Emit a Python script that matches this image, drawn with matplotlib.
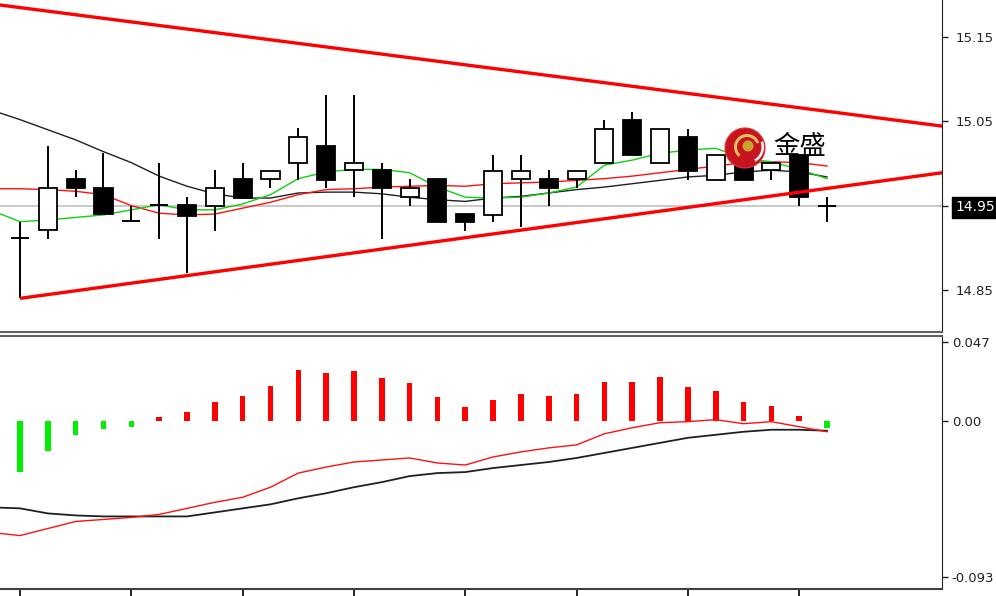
import numpy as np
import matplotlib as mp
mp.use('Agg')
import matplotlib.pyplot as plt
from matplotlib.patches import Circle, Wedge

plt.rcParams['font.family'] = ['DejaVu Sans']

# ---- candles (bar index 0..29) ----
opens  = [14.912, 14.921, 14.982, 14.971, 14.932, 14.951, 14.951, 14.950, 14.982, 14.982,
          15.0005, 15.021, 14.992, 14.992, 14.960, 14.982, 14.940, 14.939, 14.982, 14.982,
          14.982, 15.0005, 15.052, 15.0005, 15.031, 14.980, 15.002, 14.992, 15.010, 14.950]
closes = [14.912, 14.971, 14.971, 14.940, 14.932, 14.951, 14.938, 14.971, 14.959, 14.991,
          15.031, 14.980, 15.000, 14.971, 14.971, 14.931, 14.931, 14.991, 14.991, 14.971,
          14.991, 15.041, 15.010, 15.041, 14.991, 15.010, 14.980, 15.000, 14.960, 14.950]
highs  = [14.931, 15.021, 14.992, 15.012, 14.950, 15.0005, 14.960, 14.992, 15.000, 14.991,
          15.042, 15.081, 15.081, 15.000, 14.982, 14.982, 14.940, 15.010, 15.010, 14.992,
          14.991, 15.052, 15.061, 15.041, 15.041, 15.010, 15.002, 15.000, 15.010, 14.960]
lows   = [14.840, 14.910, 14.960, 14.940, 14.932, 14.910, 14.870, 14.920, 14.959, 14.971,
          14.980, 14.971, 14.960, 14.910, 14.950, 14.931, 14.920, 14.931, 14.925, 14.950,
          14.971, 15.0005, 15.010, 15.0005, 14.980, 14.980, 14.980, 14.980, 14.950, 14.931]

# ---- moving averages (bar index -1..29) ----
ma_black = [15.063, 15.052, 15.040, 15.028, 15.014, 15.001, 14.985, 14.973, 14.964, 14.959, 14.959,
            14.965, 14.966, 14.966, 14.964, 14.960, 14.957, 14.955, 14.959, 14.961, 14.965,
            14.969, 14.972, 14.976, 14.980, 14.984, 14.986, 14.990, 14.992, 14.990, 14.984]
ma_red   = [14.970, 14.970, 14.969, 14.967, 14.963, 14.950, 14.941, 14.939, 14.940, 14.947, 14.954,
            14.963, 14.969, 14.970, 14.972, 14.973, 14.974, 14.973, 14.976, 14.977, 14.978,
            14.980, 14.982, 14.985, 14.989, 14.993, 14.997, 15.001, 15.002, 15.001, 14.997]
ma_green = [14.944, 14.931, 14.933, 14.936, 14.939, 14.945, 14.951, 14.945, 14.945, 14.952, 14.963,
            14.982, 14.990, 14.993, 14.993, 14.989, 14.972, 14.960, 14.959, 14.960, 14.965,
            14.972, 14.998, 15.004, 15.012, 15.016, 15.018, 15.006, 15.002, 14.993, 14.982]

# ---- trend lines (bar index, price) ----
upper_line = [(0, 15.1849), (28, 15.0661)]
lower_line = [(0, 14.840), (28, 14.9659)]
last_price = 14.95

# ---- MACD ----
hist = [-0.0306, -0.018, -0.0084, -0.0048, -0.0036, 0.0024, 0.0054, 0.0114, 0.0144, 0.0204,
        0.030, 0.0282, 0.0294, 0.0252, 0.0222, 0.0138, 0.0084, 0.0126, 0.0156, 0.0144,
        0.0156, 0.0228, 0.0228, 0.0258, 0.0198, 0.0174, 0.0114, 0.009, 0.003, -0.0042]
dif = [-0.0666, -0.0684, -0.0642, -0.060, -0.0588, -0.0576, -0.0558, -0.0522, -0.0486, -0.0456, -0.0396,
       -0.0312, -0.0276, -0.0246, -0.0234, -0.0222, -0.0252, -0.0264, -0.0216, -0.0186, -0.0162,
       -0.0144, -0.0078, -0.0042, -0.0012, -0.0006, 0.0006, -0.0018, -0.0006, -0.0036, -0.0066]
dea = [-0.0516, -0.0522, -0.0552, -0.0564, -0.057, -0.057, -0.057, -0.057, -0.0546, -0.0522, -0.0498,
       -0.0462, -0.0432, -0.0396, -0.0366, -0.033, -0.0312, -0.0306, -0.0282, -0.0264, -0.0246,
       -0.0222, -0.0192, -0.0162, -0.0132, -0.0102, -0.0084, -0.0066, -0.0054, -0.0054, -0.006]

bars = np.arange(len(opens))
lbars = np.arange(-1, len(opens))

fig = plt.figure(figsize=(9.96, 5.96), dpi=100)
W, H = 996.0, 596.0
ax1 = fig.add_axes([0, 1 - 332 / H, 942 / W, 332 / H])
ax2 = fig.add_axes([0, 1 - 589 / H, 942 / W, (589 - 336) / H])

xl = (-20 / 27.83, (942 - 20) / 27.83)

# ---- main panel ----
ax1.axhline(last_price, color='#c0c0c0', lw=1.2, zorder=1)
ax1.plot(lbars, ma_black, color='#202020', lw=1.0, zorder=2)
ax1.plot(lbars, ma_red, color='#ff1010', lw=1.0, zorder=2)
ax1.plot(lbars, ma_green, color='#10d010', lw=1.0, zorder=2)

bw = 0.65
for i in bars:
    o, c = opens[i], closes[i]
    ax1.vlines(i, lows[i], highs[i], color='black', lw=1.4, zorder=3)
    if abs(o - c) < 1e-6:
        ax1.hlines(o, i - bw / 2, i + bw / 2, color='black', lw=1.4, zorder=4)
    else:
        fc = 'white' if c > o else 'black'
        ax1.bar(i, abs(c - o), bottom=min(o, c), width=bw, color=fc,
                edgecolor='black', linewidth=1.3, zorder=4)

ax1.axline(upper_line[0], upper_line[1], color='#ff0000', lw=2.4, zorder=5)
(x0, y0), (x1, y1) = lower_line
slope = (y1 - y0) / (x1 - x0)
ax1.plot([x0, 40], [y0, y0 + slope * (40 - x0)], color='#ff0000', lw=2.4, zorder=5,
         solid_capstyle='butt')

ax1.set_xlim(*xl)
ax1.set_ylim(14.8001, 15.1939)
ax1.yaxis.tick_right()
ax1.set_yticks([14.85, 14.95, 15.05, 15.15])
ax1.set_yticklabels(['14.85', '14.95', '15.05', '15.15'])
ax1.tick_params(axis='y', direction='out', length=4, width=1, pad=6,
                labelsize=9.5, colors='#222222')
ax1.tick_params(axis='x', bottom=False, labelbottom=False)
for lab in ax1.get_yticklabels():
    if lab.get_text() == '14.95':
        lab.set_color('white')
        lab.set_fontsize(10)
        lab.set_bbox(dict(facecolor='black', edgecolor='black', pad=2.5))
ax1.spines['top'].set_visible(False)
ax1.spines['left'].set_visible(False)
ax1.spines['right'].set_color('#202020')
ax1.spines['bottom'].set_color('#606060')
ax1.spines['bottom'].set_linewidth(1.5)

# ---- MACD panel ----
hcol = ['#ff0000' if v > 0 else '#00ee00' for v in hist]
ax2.bar(bars, hist, width=0.2, color=hcol, zorder=2)
ax2.plot(lbars, dea, color='#202020', lw=1.3, zorder=3)
ax2.plot(lbars, dif, color='#ff1010', lw=1.0, zorder=3)
ax2.set_xlim(*xl)
ax2.set_ylim(-0.1002, 0.0504)
ax2.yaxis.tick_right()
ax2.set_yticks([-0.093, 0.0, 0.047])
ax2.set_yticklabels(['-0.093', '0.00', '0.047'])
ax2.tick_params(axis='y', direction='out', length=4, width=1, pad=3,
                labelsize=9.5, colors='#222222')
ax2.set_xticks(bars[::4])
ax2.tick_params(axis='x', direction='out', length=7, width=1.2, labelbottom=False)
ax2.spines['left'].set_visible(False)
ax2.spines['top'].set_color('#606060')
ax2.spines['top'].set_linewidth(1.5)
ax2.spines['right'].set_color('#202020')
ax2.spines['bottom'].set_color('#404040')
ax2.spines['bottom'].set_linewidth(1.5)

# ---- logo ----
tr = fig.dpi_scale_trans
cx, cy = 745 / 100, (H - 148) / 100
fig.add_artist(Circle((cx, cy), 0.20, transform=tr, facecolor='#c8141e',
                      edgecolor='#e03030', lw=0.8, zorder=10))
fig.add_artist(Wedge((cx + 0.02, cy + 0.01), 0.13, 20, 230, width=0.03, transform=tr,
                     facecolor='#e0c060', edgecolor='none', zorder=11))
fig.add_artist(Wedge((cx + 0.02, cy + 0.01), 0.17, -60, 20, width=0.025, transform=tr,
                     facecolor='white', edgecolor='none', zorder=11))
fig.add_artist(Circle((cx + 0.03, cy + 0.02), 0.055, transform=tr,
                      facecolor='#c9a230', edgecolor='none', zorder=12))
fig.text(800 / W, 1 - 147 / H, '金盛', fontsize=19, ha='center', va='center',
         family=['Noto Sans CJK SC', 'DejaVu Sans'], color='black', zorder=13)

plt.savefig('out.png', dpi=100)
